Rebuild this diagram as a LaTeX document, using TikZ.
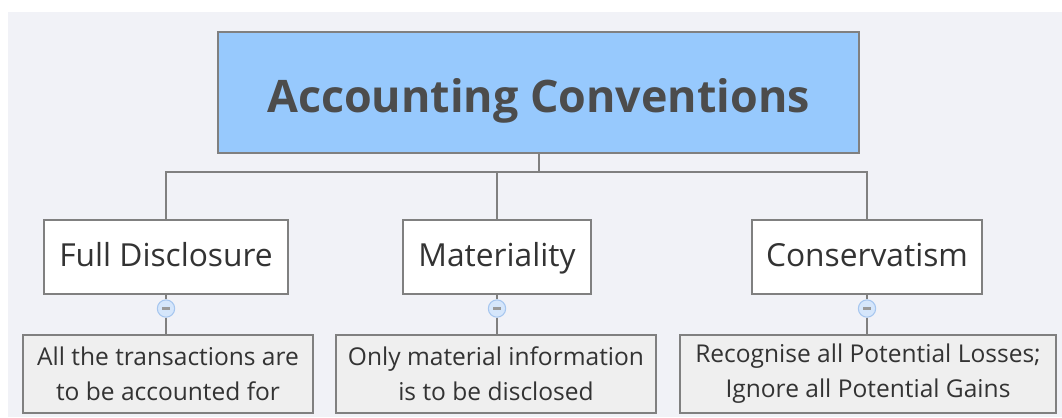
\documentclass[tikz,border=0pt]{standalone}
\usepackage{fontspec}
\setmainfont{Open Sans}
\usepackage{xcolor}
\usepackage{tikz}

\definecolor{rootblue}{HTML}{97C9FD}
\definecolor{edgegray}{HTML}{808080}
\definecolor{panel}{HTML}{F1F2F7}
\definecolor{leafgray}{HTML}{EFEFEF}
\definecolor{knobblue}{HTML}{D5E6FB}
\definecolor{knobline}{HTML}{A6C6EF}

\begin{document}
\begin{tikzpicture}[x=0.75pt, y=-0.75pt, inner sep=0pt,
    topic/.style={draw=edgegray, line width=2.2pt, fill=rootblue, text=black!70, font=\fontsize{33.6}{40}\selectfont\bfseries, text height=33pt, text depth=2.25pt},
    sub/.style={draw=edgegray, line width=1.8pt, fill=white, text=black!80, font=\fontsize{23.8}{28}\selectfont, minimum height=55.5pt, text height=20pt, text depth=6.5pt},
    leaf/.style={draw=edgegray, line width=1.8pt, fill=leafgray, text=black!80, font=\fontsize{18.4}{26.25}\selectfont, align=center, minimum height=58.5pt},
    knob/.style={circle, draw=knobline, fill=knobblue, line width=0.8pt, minimum size=13pt,
        path picture={\draw[edgegray!80, line width=2pt] ([xshift=-3pt]path picture bounding box.center) -- ([xshift=3pt]path picture bounding box.center);}},
    link/.style={draw=edgegray, line width=1.5pt}]

    % page and panel
    \fill[white] (0,0) rectangle (1062,417);
    \fill[panel] (8,12) rectangle (1062,417);

    \node[topic, minimum width=480.75pt, minimum height=90.75pt] (conv) at (538.5, 92.5) {Accounting Conventions};

    \node[sub, minimum width=183pt] (full) at (166, 257) {Full Disclosure};
    \node[sub, minimum width=141pt] (mat) at (497, 257) {Materiality};
    \node[sub, minimum width=172.5pt] (cons) at (867, 257) {Conservatism};

    \node[leaf, minimum width=217.5pt] (fullnote) at (168, 374) {All the transactions are\\to be accounted for};
    \node[leaf, minimum width=240pt] (matnote) at (496, 374) {Only material information\\is to be disclosed};
    \node[leaf, minimum width=282pt] (consnote) at (868, 374) {Recognise all Potential Losses;\\Ignore all Potential Gains};

    % tree lines
    \coordinate (bus) at (540, 172);
    \draw[link] (conv.south) -- (conv.south |- bus);
    \foreach \n in {full, mat, cons}
        \draw[link] (conv.south |- bus) -| (\n.north);

    \foreach \n in {full, mat, cons} {
        \node[knob] (\n knob) at ([yshift=-10pt]\n.south) {};
        \draw[link] (\n.south) -- (\n knob);
        \draw[link] (\n knob) -- (\n knob |- \n note.north);
    }
\end{tikzpicture}
\end{document}
